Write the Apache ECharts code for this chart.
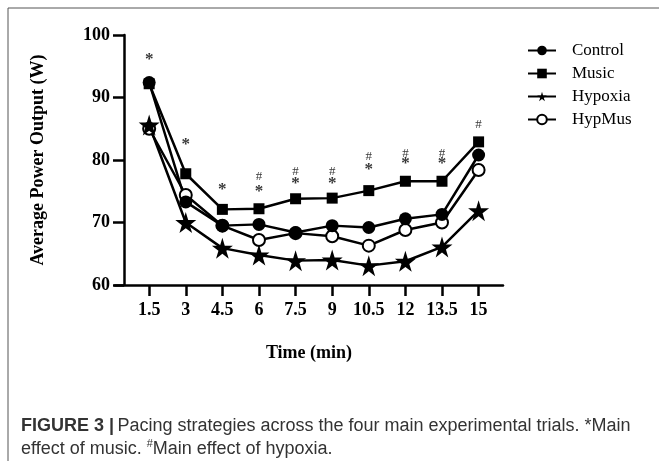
<!DOCTYPE html>
<html>
<head>
<meta charset="utf-8">
<script src="https://cdn.jsdelivr.net/npm/echarts@6/dist/echarts.min.js"></script>
<style>
  html, body { margin: 0; padding: 0; background: #fff; }
  #chart { width: 659px; height: 461px; }
</style>
</head>
<body>
<div id="chart"></div>
<script>
// time points (min)
var times = [1.5, 3, 4.5, 6, 7.5, 9, 10.5, 12, 13.5, 15];
var yTicks = [60, 70, 80, 90, 100];

var control = [92.4, 73.3, 69.5, 69.7, 68.4, 69.5, 69.2, 70.6, 71.3, 80.8];
var music   = [92.2, 77.8, 72.1, 72.2, 73.8, 73.9, 75.1, 76.6, 76.6, 82.9];
var hypoxia = [85.6, 70.0, 65.9, 64.8, 63.9, 64.0, 63.1, 63.8, 66.1, 71.9];
var hypmus  = [85.0, 74.4, 69.5, 67.2, 68.3, 67.8, 66.3, 68.8, 70.0, 78.4];

// significance marks: [time, y position]
var starMarks = [[1.5, 96], [3, 82.4], [4.5, 75.2], [6, 75.0], [7.5, 76.3], [9, 76.3],
                 [10.5, 78.4], [12, 79.5], [13.5, 79.5]];
var hashMarks = [[6, 77.3], [7.5, 78.2], [9, 78.2], [10.5, 80.5], [12, 81.1], [13.5, 81.1], [15, 85.6]];

var starPath = 'path://M50,0 L61,35 L98,35 L68,57 L79,91 L50,70 L21,91 L32,57 L2,35 L39,35 Z';
var serif = '"Liberation Serif", "DejaVu Serif", serif';
var sans = '"Liberation Sans", Arial, sans-serif';

function pairs(vals) {
    var out = [];
    for (var i = 0; i < times.length; i++) out.push([times[i], vals[i]]);
    return out;
}

function lineSeries(name, vals, symbol, size, fill) {
    return {
        name: name,
        type: 'line',
        data: pairs(vals),
        symbol: symbol,
        symbolSize: size,
        showAllSymbol: true,
        lineStyle: { color: '#000', width: 2.5 },
        itemStyle: { color: fill, borderColor: '#000', borderWidth: fill === '#fff' ? 2 : 0 },
        emphasis: { disabled: true },
        z: 3
    };
}

function markSeries(data, text, font) {
    return {
        type: 'scatter',
        data: data,
        symbol: 'circle',
        symbolSize: 1,
        itemStyle: { color: 'rgba(0,0,0,0)' },
        silent: true,
        label: {
            show: true, position: 'inside', formatter: text,
            fontFamily: serif, fontSize: font.size, fontWeight: font.weight, color: '#000'
        },
        z: 5
    };
}

var chart = echarts.init(document.getElementById('chart'));

var option = {
    animation: false,
    backgroundColor: '#fff',
    grid: { left: 115, top: 35, width: 388, height: 250 },
    legend: {
        orient: 'vertical',
        left: 522,
        top: 37,
        itemWidth: 28,
        itemHeight: 12,
        itemGap: 6,
        textStyle: { fontFamily: serif, fontSize: 17, color: '#000', padding: [0, 0, 0, 11] },
        data: ['Control', 'Music', 'Hypoxia', 'HypMus']
    },
    xAxis: {
        type: 'value',
        min: 0.1,
        max: 16.0,
        name: 'Time (min)',
        nameLocation: 'middle',
        nameGap: 59,
        nameTextStyle: { fontFamily: serif, fontSize: 18, fontWeight: 'bold', color: '#000' },
        splitLine: { show: false },
        axisLine: { lineStyle: { color: '#000', width: 2.5 } },
        axisTick: { customValues: times, length: 11, lineStyle: { color: '#000', width: 2.5 } },
        axisLabel: {
            customValues: times,
            margin: 16,
            fontFamily: serif, fontSize: 18, fontWeight: 'bold', color: '#000'
        }
    },
    yAxis: {
        type: 'value',
        min: 60,
        max: 100,
        interval: 10,
        offset: -9,
        name: 'Average Power Output (W)',
        nameLocation: 'middle',
        nameGap: 77,
        nameTextStyle: { fontFamily: serif, fontSize: 18, fontWeight: 'bold', color: '#000' },
        splitLine: { show: false },
        axisLine: { show: true, lineStyle: { color: '#000', width: 2.5 } },
        axisTick: { show: true, inside: false, length: 11, lineStyle: { color: '#000', width: 2.5 } },
        axisLabel: { margin: 14, fontFamily: serif, fontSize: 18, fontWeight: 'bold', color: '#000' }
    },
    series: [
        lineSeries('HypMus', hypmus, 'circle', 12, '#fff'),
        lineSeries('Hypoxia', hypoxia, starPath, 21, '#000'),
        lineSeries('Music', music, 'rect', 11, '#000'),
        lineSeries('Control', control, 'circle', 13, '#000'),
        markSeries(starMarks, '*', { size: 17, weight: 'bold' }),
        markSeries(hashMarks, '#', { size: 13, weight: 'normal' })
    ],
    graphic: [
        {
            type: 'rect',
            shape: { x: 8, y: 8, width: 700, height: 500 },
            style: { fill: 'none', stroke: '#555', lineWidth: 1 },
            silent: true
        },
        {
            type: 'text',
            left: 21,
            top: 415,
            style: {
                text: '{b|FIGURE 3 |} {n|Pacing strategies across the four main experimental trials. *Main}\n' +
                      '{n|effect of music. }{s|#}{n|Main effect of hypoxia.}',
                lineHeight: 23,
                rich: {
                    b: { fontFamily: sans, fontSize: 18, fontWeight: 'bold', fill: '#333', lineHeight: 23 },
                    n: { fontFamily: sans, fontSize: 18, fill: '#333', lineHeight: 23 },
                    s: { fontFamily: sans, fontSize: 11, fill: '#333', lineHeight: 23, verticalAlign: 'top' }
                }
            }
        }
    ]
};

chart.setOption(option);
</script>
</body>
</html>
